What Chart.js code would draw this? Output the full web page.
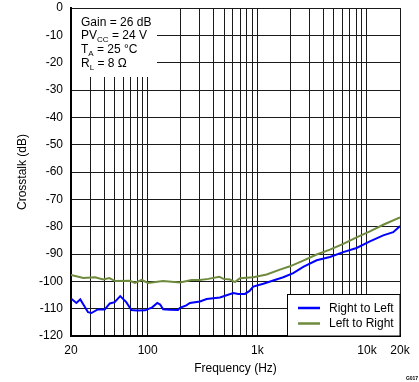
<!DOCTYPE html>
<html>
<head>
<meta charset="utf-8">
<script src="https://cdn.jsdelivr.net/npm/chart.js@4/dist/chart.umd.min.js"></script>
<style>
html,body{margin:0;padding:0;background:#fff;}
#wrap{width:419px;height:382px;position:relative;}
</style>
</head>
<body>
<div id="wrap"><canvas id="c" width="419" height="382"></canvas></div>
<script>
// ---- data ----
const rightToLeftFreq = [20,22.4,24.3,28.6,30.7,35.1,40.6,45.2,50,56.2,63.8,71.1,80,94.8,110,122.4,130,138.5,160,189,197,225,243,300,345,456,603,670,771,850,918,1133,1397,1723,2125,2622,3475,4592,6071,8035,10630,14060,17340,20000];
const rightToLeftDb   = [-106.3,-107.9,-106.6,-111.3,-111.6,-110.3,-110.3,-108.1,-107.6,-105.4,-107.6,-110.5,-110.7,-110.6,-109.5,-107.9,-108.5,-110.2,-110.4,-110.5,-109.7,-108.8,-107.9,-107.4,-106.5,-105.9,-104.3,-104.6,-104.6,-103.5,-101.9,-100.9,-99.7,-98.5,-97.0,-94.7,-92.3,-91.1,-89.3,-87.8,-85.4,-83.2,-82.0,-79.8];
const leftToRightFreq = [20,25.9,33.1,39.3,44.7,50.6,69.2,76.4,88,101,138,197,251,300,357,450,491,562,625,694,918,1217,1608,1984,2622,3475,4592,6071,8035,10630,14060,20000];
const leftToRightDb   = [-97.7,-98.8,-98.5,-99.3,-98.8,-99.9,-99.8,-100.6,-99.5,-100.6,-99.9,-100.4,-99.5,-99.5,-99.1,-98.3,-99.1,-99.3,-100.3,-98.9,-98.5,-97.5,-95.7,-94.5,-92.4,-90.2,-88.4,-86.3,-83.9,-81.7,-79.3,-76.6];
const seriesNames = ['Right to Left','Left to Right'];
const seriesColors = ['#0000FF','#6E8B3D'];
const xGridTicks = [20,30,40,50,60,70,80,90,100,200,300,400,500,600,700,800,900,1000,2000,3000,4000,5000,6000,7000,8000,9000,10000,20000];
const xTickLabels = {20:'20',100:'100',1000:'1k',10000:'10k',20000:'20k'};
const yTicks = [0,-10,-20,-30,-40,-50,-60,-70,-80,-90,-100,-110,-120];
const noteLines = [['Gain = 26 dB',''],['PV','CC',' = 24 V'],['T','A',' = 25 °C'],['R','L',' = 8 Ω']];
const xTitle = 'Frequency (Hz)';
const yTitle = 'Crosstalk (dB)';
const figId = 'G017';

const FONT = "'Liberation Sans', Arial, sans-serif";

const toPts = (f, d) => f.map((v, i) => ({x: v, y: d[i]}));

const overlay = {
  id: 'overlay',
  beforeDatasetsDraw(chart) {
    const {ctx, chartArea: a} = chart;
    ctx.save();
    ctx.fillStyle = '#fff';
    ctx.fillRect(a.left + 1, a.top + 1, 156 - a.left, 76 - a.top);
    ctx.restore();
  },
  afterDatasetsDraw(chart) {
    const {ctx, chartArea: a} = chart;
    ctx.save();
    ctx.fillStyle = '#000';
    ctx.textBaseline = 'middle';
    let y = 22.5;
    noteLines.forEach(parts => {
      let x = 81;
      ctx.font = '12px ' + FONT;
      ctx.fillText(parts[0], x, y);
      x += ctx.measureText(parts[0]).width;
      if (parts.length === 3) {
        ctx.font = '8px ' + FONT;
        ctx.fillText(parts[1], x, y + 4);
        x += ctx.measureText(parts[1]).width;
        ctx.font = '12px ' + FONT;
        ctx.fillText(parts[2], x, y);
      }
      y += 13.6;
    });
    const lx = 287.5, ly = 294.5, lw = a.right - lx, lh = a.bottom - ly;
    ctx.fillStyle = '#fff';
    ctx.fillRect(lx, ly, lw, lh);
    ctx.strokeStyle = '#000';
    ctx.lineWidth = 1;
    ctx.strokeRect(lx, ly, lw, lh);
    ctx.font = '12px ' + FONT;
    chart.data.datasets.forEach((ds, i) => {
      const yy = 308 + i * 15.5;
      ctx.strokeStyle = ds.borderColor;
      ctx.lineWidth = 2.5;
      ctx.beginPath();
      ctx.moveTo(298, yy);
      ctx.lineTo(320, yy);
      ctx.stroke();
      ctx.fillStyle = '#000';
      ctx.fillText(ds.label, 329, yy + 0.5);
    });
    ctx.font = 'bold 5px ' + FONT;
    ctx.textAlign = 'center';
    ctx.fillText(figId, 412, 379);
    ctx.restore();
  }
};

new Chart(document.getElementById('c'), {
  type: 'line',
  data: {
    datasets: [
      {label: seriesNames[0], data: toPts(rightToLeftFreq, rightToLeftDb), borderColor: seriesColors[0], borderWidth: 2, pointRadius: 0, tension: 0, fill: false},
      {label: seriesNames[1], data: toPts(leftToRightFreq, leftToRightDb), borderColor: seriesColors[1], borderWidth: 2, pointRadius: 0, tension: 0, fill: false}
    ]
  },
  options: {
    responsive: false,
    animation: false,
    devicePixelRatio: 1,
    layout: {padding: {left: 0, right: 19, top: 8, bottom: 0}},
    plugins: {legend: {display: false}, tooltip: {enabled: false}},
    scales: {
      x: {
        type: 'logarithmic',
        min: 20, max: 20000,
        afterBuildTicks(scale) { scale.ticks = xGridTicks.map(v => ({value: v})); },
        afterFit(scale) { scale.height = 46; scale.paddingLeft = 0; scale.paddingRight = 0; },
        grid: {color: '#1a1a1a', lineWidth: 1, drawTicks: false},
        border: {display: true, color: '#000', width: 2},
        ticks: {
          autoSkip: false, maxRotation: 0, minRotation: 0, padding: 7,
          color: '#000', font: {family: FONT, size: 12},
          callback: (v) => xTickLabels[v] !== undefined ? xTickLabels[v] : ''
        },
        title: {display: true, text: xTitle, color: '#000', font: {family: FONT, size: 12}, padding: {top: 0, bottom: 6}}
      },
      y: {
        type: 'linear',
        min: -120, max: 0,
        afterBuildTicks(scale) { scale.ticks = yTicks.map(v => ({value: v})); },
        afterFit(scale) { scale.width = 71; scale.paddingTop = 0; scale.paddingBottom = 0; },
        grid: {color: '#1a1a1a', lineWidth: 1, drawTicks: false},
        border: {display: true, color: '#000', width: 2},
        ticks: {padding: 8, color: '#000', font: {family: FONT, size: 12}},
        title: {display: true, text: yTitle, color: '#000', font: {family: FONT, size: 12}, padding: {top: 15, bottom: 0}}
      }
    }
  },
  plugins: [overlay]
});
</script>
</body>
</html>
